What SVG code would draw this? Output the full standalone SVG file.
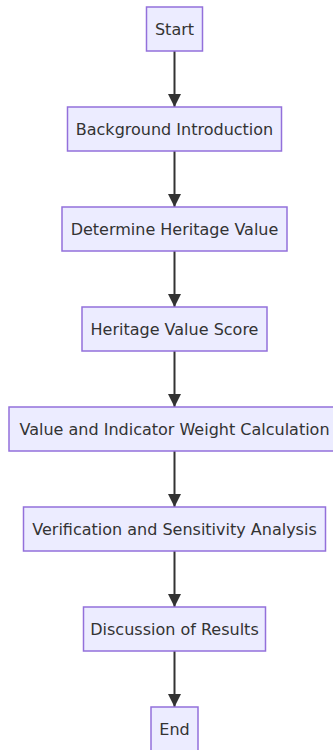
<svg xmlns="http://www.w3.org/2000/svg" width="333" height="750" viewBox="0 0 333 750">
  <style>
    .node rect { fill: #ECECFF; stroke: #9370DB; stroke-width: 1.5; }
    .node text { fill: #333333; font-family: "DejaVu Sans", Verdana, sans-serif; font-size: 16px; text-anchor: middle; dominant-baseline: central; }
    .edge { stroke: #333333; stroke-width: 2; fill: none; marker-end: url(#arrow); }
  </style>
  <defs>
    <marker id="arrow" markerUnits="userSpaceOnUse" viewBox="0 0 12 12" refX="12" refY="6" markerWidth="13" markerHeight="13" orient="auto">
      <path d="M0,0 L12,6 L0,12 z" fill="#333333"/>
    </marker>
  </defs>
  <rect width="333" height="750" fill="#ffffff"/>

  <!-- connectors -->
  <g id="edges">
    <line class="edge" x1="174.5" y1="51" x2="174.5" y2="107"/>
    <line class="edge" x1="174.5" y1="151" x2="174.5" y2="207"/>
    <line class="edge" x1="174.5" y1="251" x2="174.5" y2="307"/>
    <line class="edge" x1="174.5" y1="351" x2="174.5" y2="407"/>
    <line class="edge" x1="174.5" y1="451" x2="174.5" y2="507"/>
    <line class="edge" x1="174.5" y1="551" x2="174.5" y2="607"/>
    <line class="edge" x1="174.5" y1="651" x2="174.5" y2="707"/>
  </g>

  <!-- process steps -->
  <g id="start" class="node">
    <rect x="146.5" y="7" width="56" height="44"/>
    <text x="174.5" y="29">Start</text>
  </g>
  <g id="background" class="node">
    <rect x="67.5" y="107" width="214" height="44"/>
    <text x="174.5" y="129">Background Introduction</text>
  </g>
  <g id="determine" class="node">
    <rect x="62" y="207" width="225" height="44"/>
    <text x="174.5" y="229">Determine Heritage Value</text>
  </g>
  <g id="score" class="node">
    <rect x="82" y="307" width="185" height="44"/>
    <text x="174.5" y="329">Heritage Value Score</text>
  </g>
  <g id="weights" class="node">
    <rect x="9" y="407" width="331" height="44"/>
    <text x="174.5" y="429">Value and Indicator Weight Calculation</text>
  </g>
  <g id="verification" class="node">
    <rect x="23.5" y="507" width="302" height="44"/>
    <text x="174.5" y="529">Verification and Sensitivity Analysis</text>
  </g>
  <g id="discussion" class="node">
    <rect x="83.5" y="607" width="182" height="44"/>
    <text x="174.5" y="629">Discussion of Results</text>
  </g>
  <g id="end" class="node">
    <rect x="151" y="707" width="47" height="44"/>
    <text x="174.5" y="729">End</text>
  </g>
</svg>
